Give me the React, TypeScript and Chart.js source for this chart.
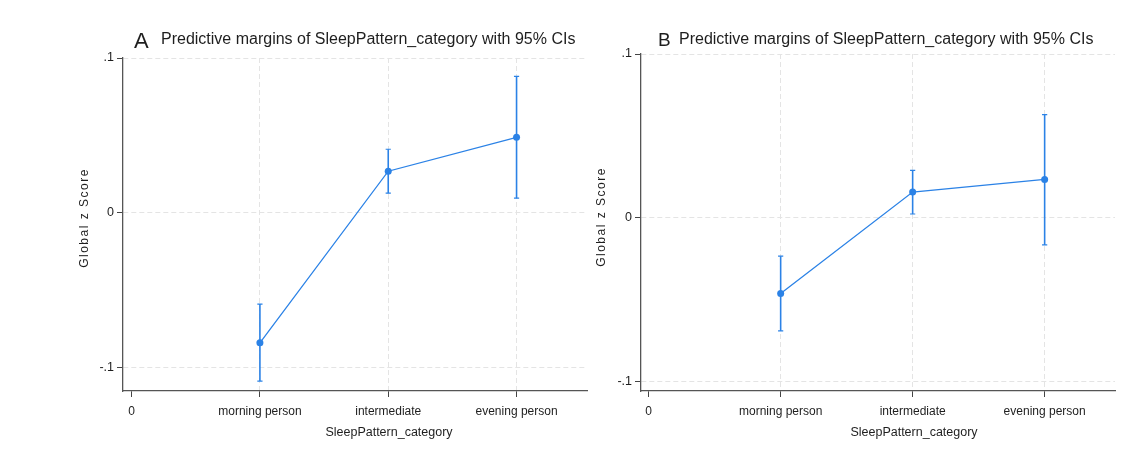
import React, { useEffect, useRef } from "react";
import { Chart, registerables } from "chart.js";
Chart.register(...registerables);

// ---- data ----
const categories = ["morning person", "intermediate", "evening person"];
const xTickValues = [0, 1, 2, 3];
const xTickLabels = ["0", "morning person", "intermediate", "evening person"];
const yTickValues = [-0.1, 0, 0.1];
const yTickLabels = ["-.1", "0", ".1"];

const marginA = [-0.0839, 0.0269, 0.0488];
const lowerA = [-0.1086, 0.0127, 0.0095];
const upperA = [-0.0589, 0.0411, 0.0882];

const marginB = [-0.0464, 0.0156, 0.0233];
const lowerB = [-0.0693, 0.0022, -0.0167];
const upperB = [-0.0236, 0.0289, 0.063];

const titleText = "Predictive margins of SleepPattern_category with 95% CIs";
const xTitle = "SleepPattern_category";
const yTitle = "Global z Score";

const FONT = "'Liberation Sans', Arial, Helvetica, sans-serif";
const BLUE = "#2b82e6";
const TEXT = "#1e1e1e";

type PanelCfg = {
  letter: string;
  letterSize: number;
  margin: number[];
  lower: number[];
  upper: number[];
  left: number;
  width: number;
  padTop: number;
  padRight: number;
  yAxisWidth: number;
  xMin: number;
  xMax: number;
  yMin: number;
  yMax: number;
  letterX: number;
  titleX: number;
  titleBaseline: number;
  yTitleX: number;
  yTitleY: number;
  xTitleX: number;
  xTitleY: number;
};

const panelA: PanelCfg = {
  letter: "A",
  letterSize: 22,
  margin: marginA,
  lower: lowerA,
  upper: upperA,
  left: 0,
  width: 595,
  padTop: 58,
  padRight: 8,
  yAxisWidth: 123,
  xMin: -0.067,
  xMax: 3.549,
  yMin: -0.115,
  yMax: 0.1,
  letterX: 134,
  titleX: 161,
  titleBaseline: 44,
  yTitleX: 85,
  yTitleY: 218,
  xTitleX: 389,
  xTitleY: 433,
};

const panelB: PanelCfg = {
  letter: "B",
  letterSize: 19,
  margin: marginB,
  lower: lowerB,
  upper: upperB,
  left: 595,
  width: 531,
  padTop: 54,
  padRight: 11,
  yAxisWidth: 46,
  xMin: -0.058,
  xMax: 3.533,
  yMin: -0.106,
  yMax: 0.1,
  letterX: 63,
  titleX: 84,
  titleBaseline: 44,
  yTitleX: 7,
  yTitleY: 217,
  xTitleX: 319,
  xTitleY: 433,
};

function Panel({ cfg }: { cfg: PanelCfg }) {
  const ref = useRef<HTMLCanvasElement | null>(null);
  useEffect(() => {
    if (!ref.current) return;
    const decor = {
      id: "decor",
      beforeDatasetsDraw(chart: any) {
        const ctx = chart.ctx;
        const xs = chart.scales.x;
        const ys = chart.scales.y;
        ctx.save();
        ctx.strokeStyle = BLUE;
        for (let i = 0; i < categories.length; i++) {
          const px = xs.getPixelForValue(i + 1);
          const pl = ys.getPixelForValue(cfg.lower[i]);
          const ph = ys.getPixelForValue(cfg.upper[i]);
          ctx.lineWidth = 1.6;
          ctx.beginPath();
          ctx.moveTo(px, pl);
          ctx.lineTo(px, ph);
          ctx.stroke();
          ctx.lineWidth = 1.2;
          ctx.beginPath();
          ctx.moveTo(px - 2.6, pl);
          ctx.lineTo(px + 2.6, pl);
          ctx.moveTo(px - 2.6, ph);
          ctx.lineTo(px + 2.6, ph);
          ctx.stroke();
        }
        ctx.restore();
      },
      afterDraw(chart: any) {
        const ctx = chart.ctx;
        ctx.save();
        ctx.fillStyle = TEXT;
        ctx.textAlign = "left";
        ctx.textBaseline = "alphabetic";
        ctx.font = `${cfg.letterSize}px ${FONT}`;
        ctx.fillText(cfg.letter, cfg.letterX, cfg.titleBaseline + (cfg.letterSize - 16) * 0.7);
        ctx.font = `16px ${FONT}`;
        ctx.fillText(titleText, cfg.titleX, cfg.titleBaseline);
        // x title
        ctx.font = `12.5px ${FONT}`;
        ctx.textAlign = "center";
        ctx.textBaseline = "middle";
        ctx.fillText(xTitle, cfg.xTitleX, cfg.xTitleY);
        // y title
        ctx.translate(cfg.yTitleX, cfg.yTitleY);
        ctx.rotate(-Math.PI / 2);
        ctx.font = `12px ${FONT}`;
        (ctx as any).letterSpacing = "1.5px";
        ctx.fillText(yTitle, 0, 0);
        ctx.restore();
      },
    };

    const chart = new Chart(ref.current, {
      type: "line",
      data: {
        datasets: [
          {
            data: cfg.margin.map((m, i) => ({ x: i + 1, y: m })),
            borderColor: BLUE,
            backgroundColor: BLUE,
            borderWidth: 1.3,
            pointRadius: 3.5,
            pointBorderWidth: 0,
            pointBackgroundColor: BLUE,
            tension: 0,
          },
        ],
      },
      options: {
        animation: false,
        responsive: true,
        maintainAspectRatio: false,
        layout: { padding: { top: cfg.padTop, right: cfg.padRight, left: 0, bottom: 0 } },
        plugins: {
          legend: { display: false },
          tooltip: { enabled: false },
          title: { display: false },
        },
        scales: {
          x: {
            type: "linear",
            min: cfg.xMin,
            max: cfg.xMax,
            afterBuildTicks: (s: any) => {
              s.ticks = xTickValues.map((v) => ({ value: v }));
            },
            afterFit: (s: any) => {
              s.height = 58;
            },
            ticks: {
              autoSkip: false,
              maxRotation: 0,
              padding: 7,
              color: TEXT,
              font: { size: 12, family: FONT },
              callback: (_v: any, i: number) => xTickLabels[i],
            },
            grid: {
              color: (c: any) => (c.tick && c.tick.value === 0 ? "rgba(0,0,0,0)" : "#e4e4e4"),
              tickColor: "#444",
              tickLength: 6,
              lineWidth: 1,
            },
            border: { display: true, color: "#555", width: 1.3, dash: [5, 3] },
          },
          y: {
            type: "linear",
            min: cfg.yMin,
            max: cfg.yMax,
            afterBuildTicks: (s: any) => {
              s.ticks = yTickValues.map((v) => ({ value: v }));
            },
            afterFit: (s: any) => {
              s.width = cfg.yAxisWidth;
            },
            ticks: {
              padding: 3,
              color: TEXT,
              font: { size: 12.5, family: FONT },
              callback: (_v: any, i: number) => yTickLabels[i],
            },
            grid: {
              color: "#e4e4e4",
              tickColor: "#444",
              tickLength: 6,
              lineWidth: 1,
            },
            border: { display: true, color: "#555", width: 1.3, dash: [5, 3] },
          },
        },
      },
      plugins: [decor],
    } as any);
    return () => chart.destroy();
  }, [cfg]);

  return (
    <div style={{ position: "absolute", left: cfg.left, top: 0, width: cfg.width, height: 449 }}>
      <canvas ref={ref} />
    </div>
  );
}

export default function App() {
  return (
    <div style={{ position: "fixed", left: 0, top: 0, width: 1126, height: 449, background: "#fff" }}>
      <Panel cfg={panelA} />
      <Panel cfg={panelB} />
    </div>
  );
}
